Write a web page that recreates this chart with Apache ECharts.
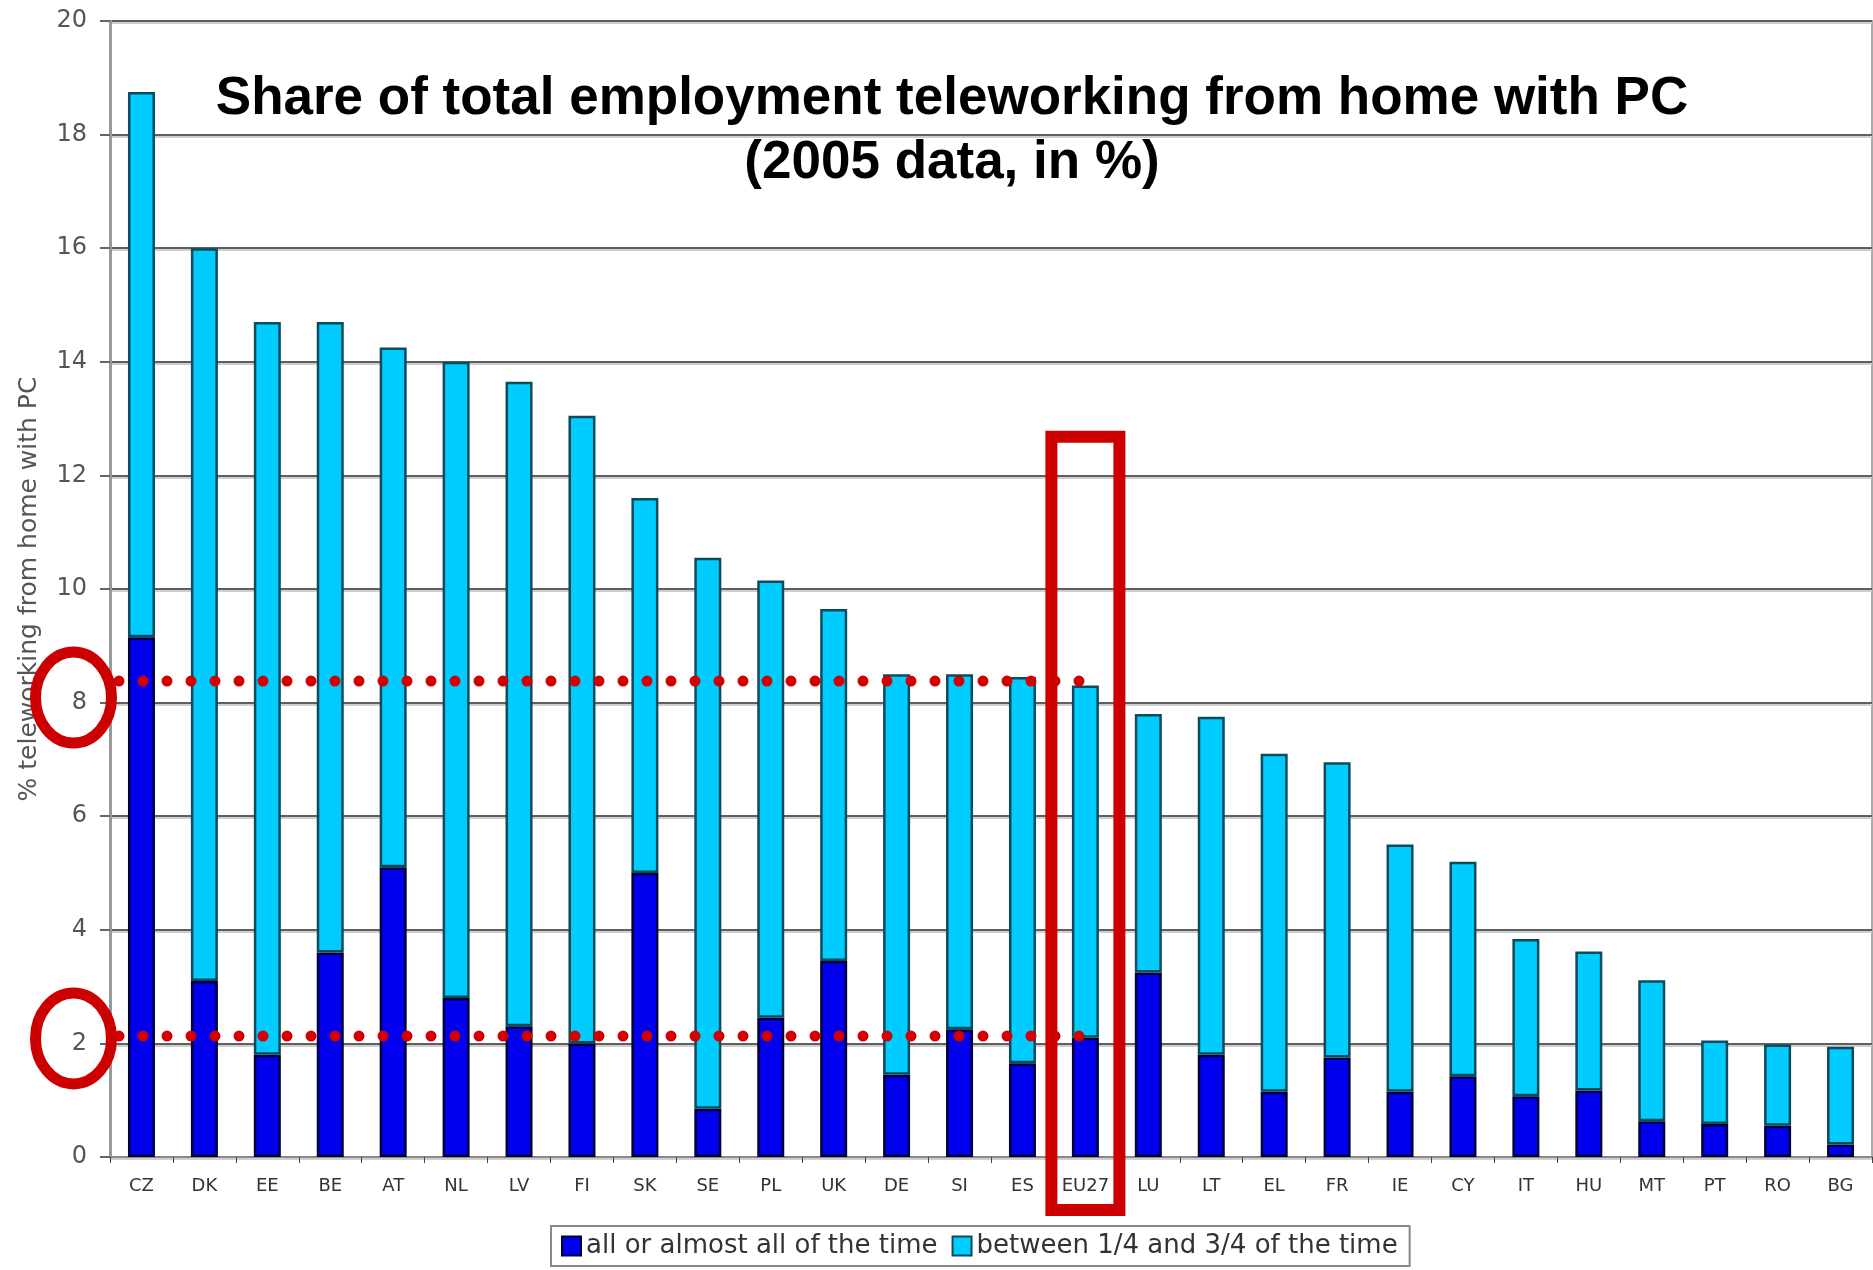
<!DOCTYPE html>
<html><head><meta charset="utf-8">
<script src="https://cdn.jsdelivr.net/npm/echarts@6/dist/echarts.min.js"></script>
<style>html,body{margin:0;padding:0;background:#fff}#c{width:1873px;height:1270px}</style>
</head><body><div id="c"></div>
<script>
// ---- data ----
const categories = ['CZ','DK','EE','BE','AT','NL','LV','FI','SK','SE','PL','UK','DE','SI','ES','EU27','LU','LT','EL','FR','IE','CY','IT','HU','MT','PT','RO','BG'];
const allTime  = [9.15, 3.1, 1.8, 3.6, 5.1, 2.8, 2.3, 2.0, 5.0, 0.85, 2.45, 3.45, 1.45, 2.25, 1.65, 2.1, 3.25, 1.8, 1.15, 1.75, 1.15, 1.42, 1.07, 1.17, 0.63, 0.58, 0.55, 0.22];
const partTime = [9.6, 12.9, 12.9, 11.1, 9.15, 11.2, 11.35, 11.05, 6.6, 9.7, 7.7, 6.2, 7.05, 6.25, 6.8, 6.2, 4.55, 5.95, 5.95, 5.2, 4.35, 3.78, 2.77, 2.45, 2.48, 1.47, 1.43, 1.72];
const seriesNames = ['all or almost all of the time', 'between 1/4 and 3/4 of the time'];
const yMin = 0, yMax = 20, yStep = 2;
const titleText = 'Share of total employment teleworking from home with PC\n(2005 data, in %)';
const yAxisName = '% teleworking from home with PC';
// annotation levels / highlighted category
const refLevels = [8.38, 2.13];
const circledTicks = [8, 2];
const highlightCat = 'EU27';
const highlightTop = 12.68;

// ---- chart ----
const GRID_LEFT = 110;
const chart = echarts.init(document.getElementById('c'), null, {renderer: 'canvas'});
chart.setOption({
  animation: false,
  backgroundColor: '#ffffff',
  title: {
    text: titleText, left: 952, top: 67, padding: 0, textAlign: 'center',
    textStyle: {fontFamily: 'Liberation Sans, Arial, sans-serif', fontWeight: 'bold', fontSize: 53, lineHeight: 64, color: '#000'}
  },
  grid: {left: GRID_LEFT, right: 1, top: 21, bottom: 113, show: true, borderColor: '#aaaaaa', borderWidth: 2},
  legend: {
    left: 551, top: 1226, icon: 'rect', itemWidth: 19, itemHeight: 19, itemGap: 14,
    padding: [7, 12, 7, 10], borderColor: '#888', borderWidth: 2,
    textStyle: {fontFamily: 'DejaVu Sans, Verdana, sans-serif', fontSize: 26, color: '#333'},
    data: seriesNames
  },
  xAxis: {
    type: 'category', data: categories,
    axisLine: {lineStyle: {color: '#888', width: 2}},
    axisTick: {show: true, length: 6, lineStyle: {color: '#444', width: 1}},
    axisLabel: {interval: 0, fontFamily: 'DejaVu Sans, Verdana, sans-serif', fontSize: 18, color: '#333', margin: 20}
  },
  yAxis: {
    type: 'value', min: yMin, max: yMax, interval: yStep,
    name: yAxisName, nameLocation: 'middle', nameGap: 68, nameRotate: 90,
    nameTextStyle: {fontFamily: 'DejaVu Sans, Verdana, sans-serif', fontSize: 25, color: '#555'},
    axisLine: {show: true, lineStyle: {color: '#999', width: 3}},
    axisTick: {show: true, length: 10, lineStyle: {color: '#666', width: 2}},
    axisLabel: {fontFamily: 'DejaVu Sans, Verdana, sans-serif', fontSize: 24, color: '#555', margin: 23},
    splitLine: {show: true, lineStyle: {color: '#5f5f5f', width: 2, shadowColor: '#cfcfcf', shadowOffsetY: 2, shadowBlur: 0}}
  },
  series: [
    {name: seriesNames[0], type: 'bar', stack: 'total', data: allTime, barWidth: 27,
     itemStyle: {color: '#0000EE', borderColor: '#00003a', borderWidth: 2.5}},
    {name: seriesNames[1], type: 'bar', stack: 'total', data: partTime, barWidth: 27,
     itemStyle: {color: '#00CCFF', borderColor: '#0d4a5c', borderWidth: 2.5}}
  ]
});

// ---- red annotations positioned through the chart's scales ----
const yPix = v => chart.convertToPixel({yAxisIndex: 0}, v);
const xPix = c => chart.convertToPixel({xAxisIndex: 0}, c);
const hx = xPix(highlightCat);
const axisY = yPix(0);
const red = '#CC0000';
const graphics = [];
refLevels.forEach(v => {
  graphics.push({type: 'line', z: 100,
    shape: {x1: GRID_LEFT + 9, y1: yPix(v), x2: hx - 5, y2: yPix(v)},
    style: {stroke: '#D40000', lineWidth: 11, lineDash: [0, 24], lineCap: 'round'}});
});
circledTicks.forEach(v => {
  graphics.push({type: 'ellipse', z: 101,
    shape: {cx: GRID_LEFT - 36.5, cy: yPix(v) - 5, rx: 38, ry: 45.5},
    style: {fill: 'none', stroke: red, lineWidth: 11}});
});
const rTop = yPix(highlightTop);
graphics.push({type: 'rect', z: 101,
  shape: {x: hx - 34, y: rTop, width: 68, height: (axisY + 53) - rTop},
  style: {fill: 'none', stroke: red, lineWidth: 12}});
chart.setOption({graphic: graphics});
</script>
</body></html>
